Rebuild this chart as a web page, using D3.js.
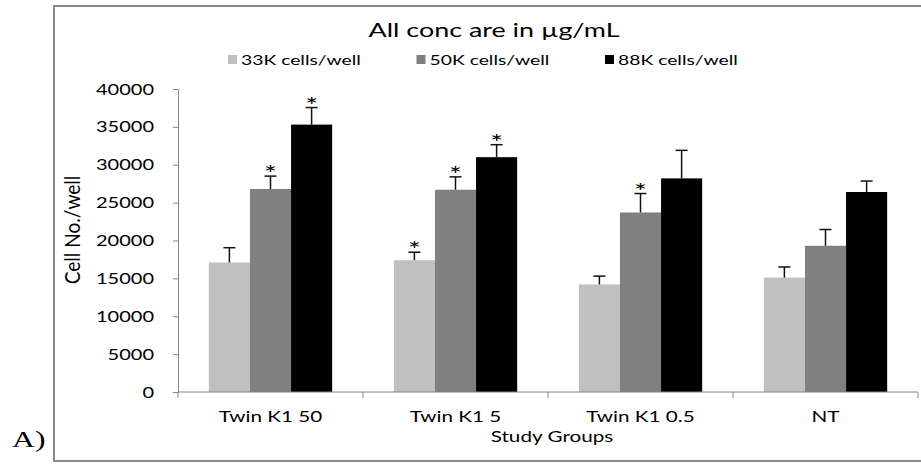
<!DOCTYPE html>
<meta charset="utf-8">
<script src="https://d3js.org/d3.v7.min.js"></script>
<style>
  body { margin: 0; background: #fff; }
  text { font-family: Lato, "Open Sans", sans-serif; fill: #000; }
</style>
<body>
<div id="chart"></div>
<script>
  // data
  var groups = ["Twin K1 50", "Twin K1 5", "Twin K1 0.5", "NT"]
  var seriesNames = ["33K cells/well", "50K cells/well", "88K cells/well"]
  var v33 = [17100, 17400, 14200, 15100]
  var e33 = [1950, 1050, 1100, 1400]
  var v50 = [26800, 26700, 23700, 19300]
  var e50 = [1700, 1700, 2500, 2150]
  var v88 = [35300, 31000, 28200, 26400]
  var e88 = [2250, 1650, 3700, 1450]
  var star33 = [false, true, false, false]
  var star50 = [true, true, true, false]
  var star88 = [true, true, false, false]
  var yTicks = [0, 5000, 10000, 15000, 20000, 25000, 30000, 35000, 40000]

  var colors = ["#c0c0c0", "#808080", "#000000"]

  var width = 921, height = 466
  var SX = 1.38   // the picture is stretched sideways, so is its text

  var svg = d3.select("#chart").append("svg")
    .attr("width", width)
    .attr("height", height)

  // outer frame
  svg.append("rect")
    .attr("x", 54).attr("y", 6)
    .attr("width", 900).attr("height", 455)
    .attr("fill", "none")
    .attr("stroke", "#8a8a8a")
    .attr("stroke-width", 2)

  // helper: place a text and stretch it sideways
  function put(sel, x, y) {
    return sel.attr("transform", "translate(" + x + "," + y + ") scale(" + SX + ",1)")
  }

  var x0 = d3.scaleBand()
    .domain(groups)
    .range([178, 918])
    .paddingInner(1 / 3)
    .paddingOuter(1 / 6)

  var x1 = d3.scaleBand()
    .domain(seriesNames)
    .range([0, x0.bandwidth()])

  var y = d3.scaleLinear()
    .domain([0, 40000])
    .range([392, 89])

  var rows = []
  groups.forEach(function(g, i) {
    rows.push({ g: g, s: seriesNames[0], c: colors[0], v: v33[i], e: e33[i], star: star33[i] })
    rows.push({ g: g, s: seriesNames[1], c: colors[1], v: v50[i], e: e50[i], star: star50[i] })
    rows.push({ g: g, s: seriesNames[2], c: colors[2], v: v88[i], e: e88[i], star: star88[i] })
  })

  // bars
  svg.selectAll(".bar")
    .data(rows)
    .enter().append("rect")
    .attr("class", "bar")
    .attr("x", function(d) { return x0(d.g) + x1(d.s) })
    .attr("width", x1.bandwidth())
    .attr("y", function(d) { return y(d.v) })
    .attr("height", function(d) { return y(0) - y(d.v) })
    .attr("fill", function(d) { return d.c })

  // error bars (upper only)
  var cx = function(d) { return x0(d.g) + x1(d.s) + x1.bandwidth() / 2 }
  var err = svg.selectAll(".err")
    .data(rows)
    .enter().append("g")
    .attr("class", "err")
    .attr("stroke", "#111")
    .attr("stroke-width", 1.5)
  err.append("line")
    .attr("x1", cx).attr("x2", cx)
    .attr("y1", function(d) { return y(d.v) })
    .attr("y2", function(d) { return y(d.v + d.e) })
  err.append("line")
    .attr("x1", function(d) { return cx(d) - 6 })
    .attr("x2", function(d) { return cx(d) + 6 })
    .attr("y1", function(d) { return y(d.v + d.e) })
    .attr("y2", function(d) { return y(d.v + d.e) })

  // significance stars
  svg.selectAll(".star")
    .data(rows.filter(function(d) { return d.star }))
    .enter().append("text")
    .attr("class", "star")
    .attr("text-anchor", "middle")
    .style("font-size", "22px")
    .text("*")
    .each(function(d) { put(d3.select(this), cx(d), y(d.v + d.e) + 5) })

  // y axis
  var yAxis = svg.append("g")
    .attr("transform", "translate(178,0)")
    .call(d3.axisLeft(y).tickValues(yTicks).tickSize(5).tickSizeOuter(0).tickFormat(d3.format("d")))
  yAxis.select(".domain").attr("stroke", "#868686")
  yAxis.selectAll(".tick line").attr("stroke", "#868686")
  yAxis.selectAll(".tick text").remove()
  yAxis.selectAll(".tick").append("text")
    .attr("text-anchor", "end")
    .style("font-size", "14.5px")
    .text(function(d) { return d })
    .each(function() { put(d3.select(this), -24, 5) })

  // x axis
  var xAxis = svg.append("g")
  xAxis.append("line")
    .attr("x1", 178).attr("x2", 918)
    .attr("y1", y(0)).attr("y2", y(0))
    .attr("stroke", "#868686")
  xAxis.selectAll(".xt")
    .data(groups.concat(["end"]))
    .enter().append("line")
    .attr("x1", function(d, i) { return 178 + i * x0.step() })
    .attr("x2", function(d, i) { return 178 + i * x0.step() })
    .attr("y1", y(0)).attr("y2", y(0) + 6)
    .attr("stroke", "#868686")
  xAxis.selectAll(".xl")
    .data(groups)
    .enter().append("text")
    .attr("text-anchor", "middle")
    .style("font-size", "15px")
    .text(function(d) { return d })
    .each(function(d) { put(d3.select(this), x0(d) + x0.bandwidth() / 2, 422) })

  // axis titles
  put(svg.append("text").attr("text-anchor", "middle").style("font-size", "15px").text("Study Groups"), 552, 442)
  svg.append("text")
    .attr("text-anchor", "middle")
    .style("font-size", "14.7px")
    .attr("transform", "translate(80,230) rotate(-90) scale(1.3," + SX + ")")
    .text("Cell No./well")

  // title
  put(svg.append("text").attr("text-anchor", "middle").style("font-size", "19.5px").text("All conc are in \u00b5g/mL"), 494, 37)

  // legend
  var legend = svg.selectAll(".legend")
    .data(seriesNames)
    .enter().append("g")
    .attr("class", "legend")
    .attr("transform", function(d, i) { return "translate(" + (228 + i * 188.5) + ",55)" })
  legend.append("rect")
    .attr("width", 9).attr("height", 9)
    .attr("fill", function(d, i) { return colors[i] })
  legend.append("text")
    .style("font-size", "14px")
    .text(function(d) { return d })
    .each(function() { put(d3.select(this), 13, 10) })

  // panel label
  put(svg.append("text")
    .style("font-family", "'Liberation Serif', serif")
    .style("font-size", "23px")
    .text("A)"), 12, 447)
</script>
</body>
</html>
